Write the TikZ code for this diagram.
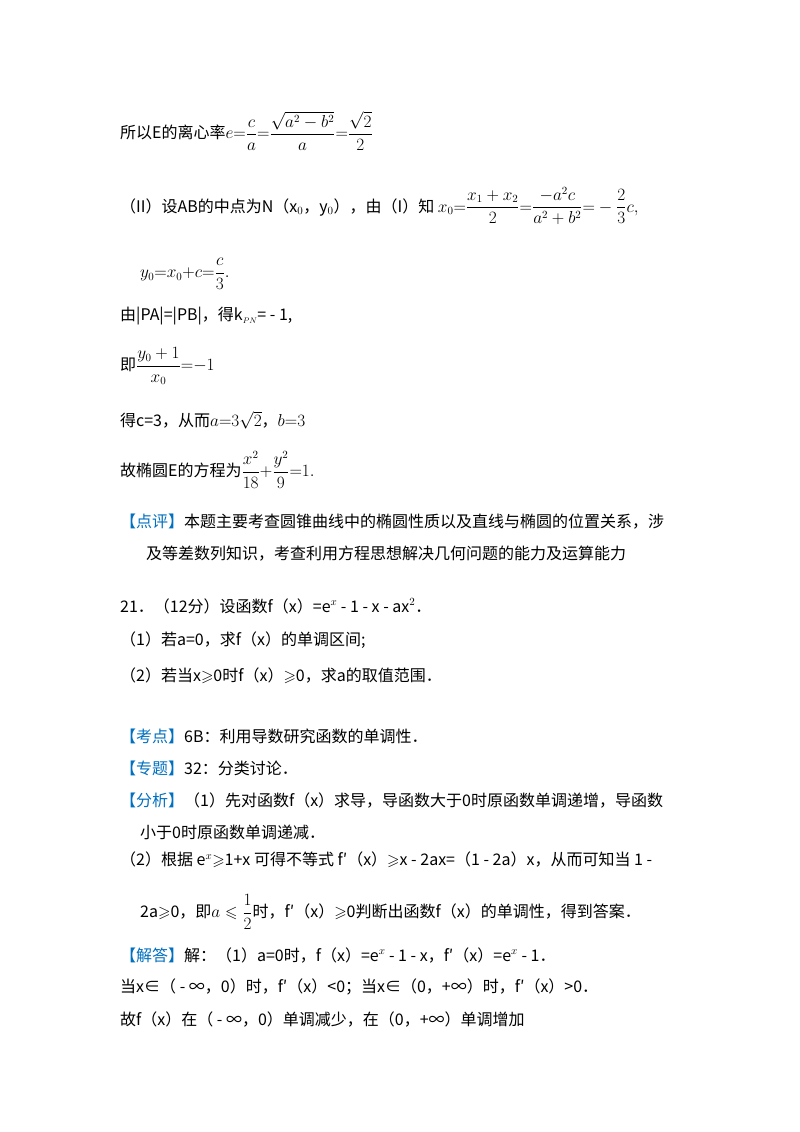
\documentclass[tikz,border=0pt]{standalone}
\usepackage{amsmath,amssymb}
\usepackage{fontspec}
\setmainfont{Noto Sans CJK SC}
\definecolor{bl}{RGB}{0,112,192}
\newcommand{\bk}[1]{\textcolor{bl}{【#1】}}
\begin{document}
\begin{tikzpicture}[x=1pt,y=-1pt,t/.style={anchor=west,inner sep=0pt,font=\fontsize{16}{19}\selectfont}]
\useasboundingbox[fill=white] (0,0) rectangle (800,1132);
\node[t] (l1) at (120,131) {所以E的离心率$e{=}\dfrac{c}{a}{=}\dfrac{\sqrt{a^2-b^2}}{a}{=}\dfrac{\sqrt2}{2}$};
\node[t] (l2) at (120,206) {（II）设AB的中点为N（x$_0$，y$_0$），由（I）知 $x_0{=}\dfrac{x_1+x_2}{2}{=}\dfrac{-a^2c}{a^2+b^2}{=}-\dfrac{2}{3}c,$};
\node[t] (l3) at (140,274) {$y_0{=}x_0{+}c{=}\dfrac{c}{3}.$};
\node[t] (l4) at (120,316) {由|PA|=|PB|，得k$_{\scriptscriptstyle PN}$= - 1,};
\node[t] (l5) at (120,366) {即$\dfrac{y_0+1}{x_0}{=}{-}1$};
\node[t] (l6) at (120,420) {得c=3，从而$a{=}3\sqrt2$，$b{=}3$};
\node[t] (l7) at (120,470) {故椭圆E的方程为$\dfrac{x^2}{18}{+}\dfrac{y^2}{9}{=}1.$};
\node[t] (l8) at (120,522) {\bk{点评}本题主要考查圆锥曲线中的椭圆性质以及直线与椭圆的位置关系，涉};
\node[t] (l9) at (146,554) {及等差数列知识，考查利用方程思想解决几何问题的能力及运算能力};
\node[t] (l10) at (120,606) {21．（12分）设函数f（x）=e$^{x}$ - 1 - x - ax$^2$．};
\node[t] (l11) at (120,640) {（1）若a=0，求f（x）的单调区间;};
\node[t] (l12) at (120,676) {（2）若当x$\geqslant$0时f（x）$\geqslant$0，求a的取值范围．};
\node[t] (l13) at (120,736) {\bk{考点}6B：利用导数研究函数的单调性．};
\node[t] (l14) at (120,768) {\bk{专题}32：分类讨论．};
\node[t] (l15) at (120,800) {\bk{分析}（1）先对函数f（x）求导，导函数大于0时原函数单调递增，导函数};
\node[t] (l16) at (140,832) {小于0时原函数单调递减．};
\node[t] (l17) at (120,860) {（2）根据 e$^{x}$$\geqslant$1+x 可得不等式 f′（x）$\geqslant$x - 2ax=（1 - 2a）x，从而可知当 1 -};
\node[t] (l18) at (140,912) {2a$\geqslant$0，即$a\leqslant\dfrac12$时，f′（x）$\geqslant$0判断出函数f（x）的单调性，得到答案．};
\node[t] (l19) at (120,955) {\bk{解答}解：（1）a=0时，f（x）=e$^{x}$ - 1 - x，f′（x）=e$^{x}$ - 1．};
\node[t] (l20) at (120,987) {当x∈（ - ∞，0）时，f′（x）<0；当x∈（0，+∞）时，f′（x）>0．};
\node[t] (l21) at (120,1019) {故f（x）在（ - ∞，0）单调减少，在（0，+∞）单调增加};
\end{tikzpicture}
\end{document}
